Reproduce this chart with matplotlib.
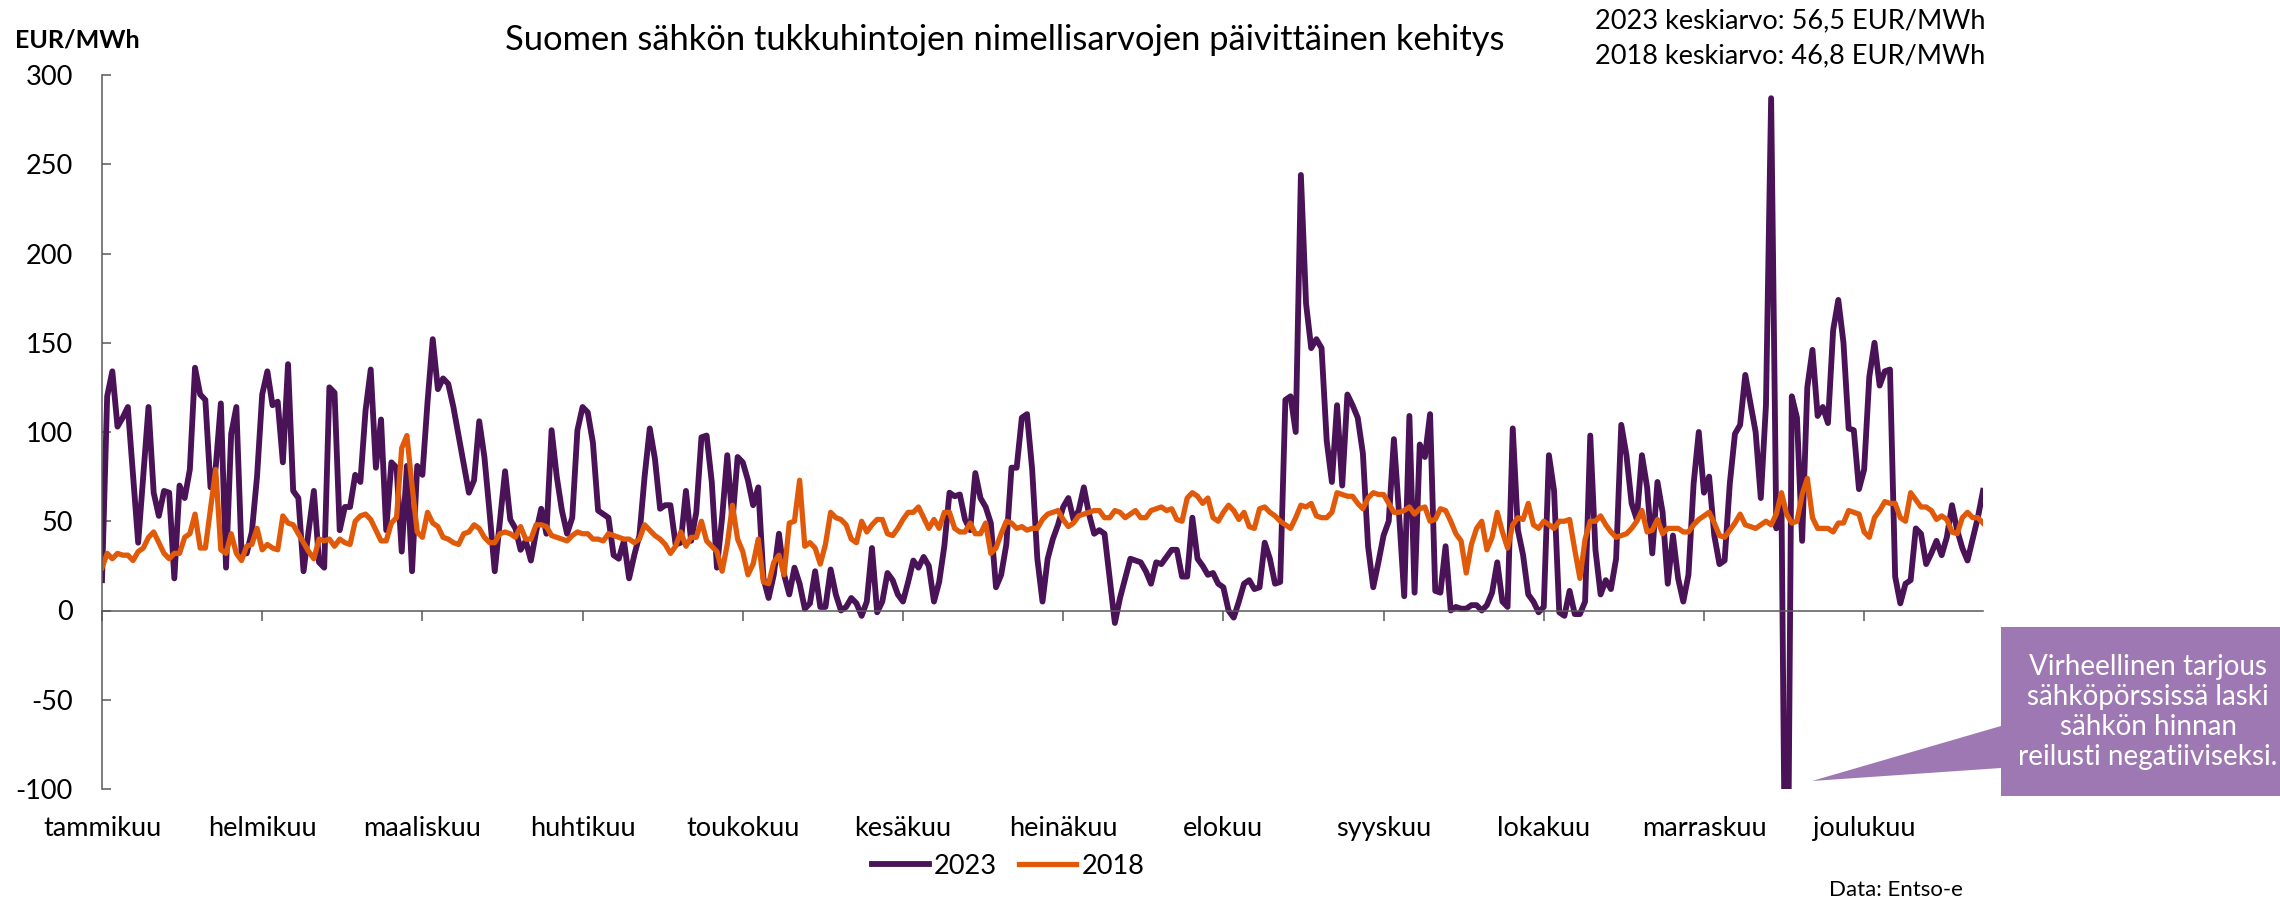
import numpy as np
import matplotlib
matplotlib.use("Agg")
import matplotlib.pyplot as plt
from matplotlib.patches import Polygon

plt.rcParams['font.family'] = ['Lato', 'DejaVu Sans']

# daily prices, EUR/MWh (day 0 = 1.1.)
price_2023 = [
    17, 120, 134, 103, 108, 114, 76, 38, 76, 114,
    66, 53, 67, 66, 18, 70, 63, 79, 136, 121,
    118, 69, 80, 116, 24, 99, 114, 32, 32, 44,
    75, 121, 134, 115, 117, 83, 138, 67, 63, 22,
    45, 67, 27, 24, 125, 122,
    45, 58, 58, 76, 72, 112, 135, 80, 107, 45,
    83, 80, 33, 81, 22, 81, 76, 117, 152, 124,
    130, 127, 114, 98, 82, 66, 73, 106, 86, 55,
    22, 50, 78, 51, 46, 34, 39, 28, 44, 57,
    43, 101, 75, 56, 43, 52,
    101, 114, 111, 94, 56, 54, 52, 31, 29, 39,
    18, 31, 42, 75, 102, 85, 57, 59, 59, 37,
    38, 67, 39, 55, 97, 98, 72, 24, 52, 87,
    50, 86, 83, 73, 59, 69, 18, 7, 20, 43,
    20, 9, 24, 15, 1,
    4, 22, 2, 2, 23, 9, 0, 2, 7, 4,
    -3, 5, 35, -1, 5, 21, 17, 9, 5, 16,
    28, 24, 30, 25, 5, 16, 36, 66, 64, 65,
    51, 45, 77, 63, 58, 49, 13, 20, 37, 80,
    80, 108, 110, 79, 29, 5,
    29, 40, 48, 58, 63, 51, 56, 69, 54, 43,
    45, 43, 18, -7, 7, 18, 29, 28, 27, 22,
    15, 27, 26, 30, 34, 34, 19, 19, 52, 29,
    25, 20, 21, 15, 13, 0, -4, 5, 15, 17,
    12, 13, 38, 29, 15,
    16, 118, 120, 100, 244, 172, 147, 152, 147, 95,
    72, 115, 70, 121, 115, 108, 88, 36, 13, 27,
    42, 50, 96, 54, 8, 109, 10, 93, 86, 110,
    11, 10, 36, 0, 2, 1, 1, 3, 3, 0,
    3, 10, 27, 5, 2,
    102, 45, 31, 9, 5, -1, 2, 87, 67, -1,
    -3, 11, -2, -2, 5, 98, 34, 9, 17, 12,
    29, 104, 87, 60, 51, 87, 69, 32, 72, 55,
    15, 42, 18, 5, 20, 71, 100, 66, 75, 42,
    26, 28, 71, 99, 104, 132,
    116, 100, 63, 115, 287, 46, 60, -250, 120, 108,
    39, 125, 146, 109, 114, 105, 157, 174, 150, 102,
    101, 68, 79, 131, 150, 126, 134, 135, 19, 4,
    15, 17, 46, 43, 26, 32, 39, 31, 41, 59,
    45, 35, 28, 40, 52, 67,
]

price_2018 = [
    24, 32, 29, 32, 31, 31, 28, 33, 35, 41,
    44, 38, 32, 29, 32, 32, 41, 43, 54, 35,
    35, 57, 79, 34, 32, 43, 32, 28, 36, 37,
    46, 34, 37, 35, 34, 53, 49, 48, 43, 38,
    33, 29, 40, 39, 40, 36,
    40, 38, 37, 50, 53, 54, 51, 45, 39, 39,
    49, 52, 91, 98, 70, 44, 41, 55, 49, 47,
    41, 40, 38, 37, 43, 44, 48, 46, 41, 38,
    38, 43, 44, 43, 41, 47, 40, 40, 48, 48,
    47, 42, 41, 40, 39, 42,
    44, 43, 43, 40, 40, 39, 43, 42, 41, 40,
    40, 38, 40, 48, 45, 42, 40, 37, 32, 36,
    44, 36, 41, 41, 50, 39, 36, 33, 22, 37,
    59, 40, 33, 20, 26, 40, 16, 15, 27, 31,
    20, 49, 50, 73, 36,
    38, 35, 26, 37, 55, 52, 51, 48, 40, 38,
    50, 44, 48, 51, 51, 43, 42, 46, 51, 55,
    55, 58, 52, 46, 51, 46, 55, 55, 46, 44,
    44, 49, 43, 43, 49, 32, 35, 43, 50, 49,
    46, 47, 45, 46, 46, 51,
    54, 55, 56, 51, 47, 49, 53, 54, 55, 56,
    56, 52, 52, 56, 55, 52, 54, 56, 52, 52,
    56, 57, 58, 56, 57, 51, 50, 63, 66, 64,
    60, 63, 52, 50, 55, 59, 56, 51, 55, 47,
    46, 57, 58, 55, 53,
    50, 48, 46, 52, 59, 58, 60, 53, 52, 52,
    55, 66, 65, 64, 64, 60, 57, 63, 66, 65,
    65, 60, 55, 55, 56, 58, 54, 57, 58, 50,
    51, 57, 56, 50, 43, 39, 21, 37, 46, 50,
    34, 41, 55, 44, 35,
    48, 52, 51, 60, 48, 46, 50, 48, 46, 50,
    50, 51, 34, 18, 40, 50, 50, 53, 48, 44,
    41, 42, 43, 46, 50, 56, 44, 45, 51, 43,
    46, 46, 46, 44, 44, 48, 51, 53, 55, 49,
    42, 41, 45, 49, 54, 48,
    47, 46, 48, 50, 48, 54, 66, 54, 49, 50,
    65, 74, 52, 46, 46, 46, 44, 49, 49, 56,
    55, 54, 44, 41, 52, 56, 61, 60, 60, 52,
    50, 66, 62, 58, 58, 56, 51, 53, 51, 44,
    43, 52, 55, 52, 52, 49,
]

months = ['tammikuu', 'helmikuu', 'maaliskuu', 'huhtikuu', 'toukokuu', 'kesäkuu',
          'heinäkuu', 'elokuu', 'syyskuu', 'lokakuu', 'marraskuu', 'joulukuu']

COL_23 = '#4A1257'
COL_18 = '#E05A0A'
GREY = '#595959'

W, H = 2280, 901
fig = plt.figure(figsize=(W / 100, H / 100), dpi=100)
ax = fig.add_axes([102 / W, 1 - 789 / H, (1983 - 102) / W, (789 - 75) / H])

days = np.arange(len(price_2023))
l23, = ax.plot(days, price_2023, color=COL_23, lw=4.2)
l18, = ax.plot(days, price_2018, color=COL_18, lw=3.8)

ax.set_xlim(0, len(days) - 1)
ax.set_ylim(-100, 300)
ax.set_yticks(np.arange(-100, 301, 50))
ax.set_yticklabels([str(v) for v in range(-100, 301, 50)])

for s in ['top', 'right']:
    ax.spines[s].set_visible(False)
ax.spines['bottom'].set_position(('data', 0))
for s in ['left', 'bottom']:
    ax.spines[s].set_color(GREY)
    ax.spines[s].set_linewidth(1.1)

ax.tick_params(axis='y', direction='in', length=6.5, width=1.1, color=GREY,
               pad=21, labelsize=19.5)
month_ticks = np.arange(0, 365, 31)
ax.set_xticks(month_ticks)
ax.set_xticklabels([])
ax.tick_params(axis='x', direction='out', length=7, width=1.1, color=GREY)
for d, m in zip(month_ticks, months):
    ax.text(d, -0.055, m, transform=ax.get_xaxis_transform(),
            ha='center', va='center', fontsize=19.5)

fig.legend([l23, l18], ['2023', '2018'], loc='center',
           bbox_to_anchor=(1008 / W, 1 - 866 / H), ncol=2, frameon=False,
           fontsize=19.5, handlelength=2.1, handletextpad=0.2, columnspacing=0.8)

fig.text(15 / W, 1 - 40 / H, 'EUR/MWh', fontweight='bold', fontsize=18,
         ha='left', va='center')
fig.text(1005 / W, 1 - 40 / H,
         'Suomen sähkön tukkuhintojen nimellisarvojen päivittäinen kehitys',
         fontsize=24.8, ha='center', va='center')
fig.text(1595 / W, 1 - 21 / H, '2023 keskiarvo: 56,5 EUR/MWh', fontsize=19.5,
         ha='left', va='center')
fig.text(1595 / W, 1 - 56 / H, '2018 keskiarvo: 46,8 EUR/MWh', fontsize=19.5,
         ha='left', va='center')
fig.text(1963 / W, 1 - 890 / H, 'Data: Entso-e', fontsize=16,
         ha='right', va='center')

# callout box pointing at the negative spike
pts = [(2001, 627), (2280, 627), (2280, 796), (2001, 796),
       (2001, 768), (1812, 781), (2001, 726)]
box = Polygon([(x / W, 1 - y / H) for x, y in pts], closed=True,
              transform=fig.transFigure, facecolor='#9E78B2', edgecolor='none')
fig.patches.append(box)
fig.text(2148 / W, 1 - 712 / H,
         'Virheellinen tarjous\nsähköpörssissä laski\nsähkön hinnan\nreilusti negatiiviseksi.',
         color='white', fontsize=20, ha='center', va='center',
         multialignment='center', linespacing=1.2)

fig.savefig('out.png', dpi=100)
